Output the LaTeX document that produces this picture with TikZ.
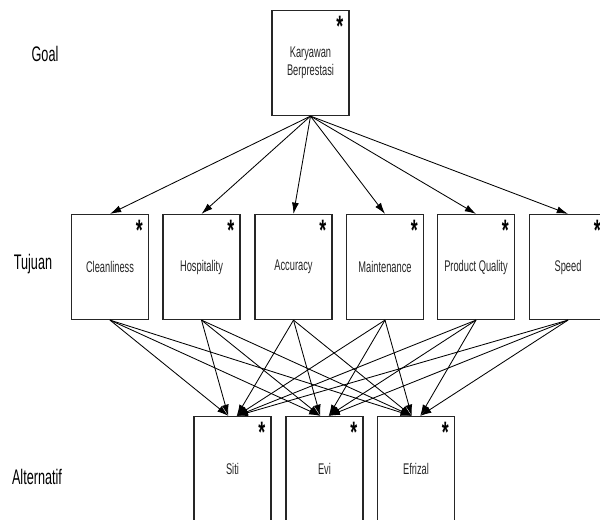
\documentclass[tikz,border=0pt]{standalone}
\usepackage{fontspec}
\setmainfont{Liberation Sans}[FakeStretch=0.6]
\usetikzlibrary{arrows.meta}
\begin{document}
\begin{tikzpicture}
[x=0.025cm,y=-0.025cm,
 every node/.style={font=\fontsize{11}{13}\selectfont,text=black!85},
 kotak/.style={draw=black!85,line width=1pt,minimum width=1.93cm,minimum height=2.62cm,align=center,
   label={[anchor=north east,inner sep=0pt,xshift=-4.5pt,yshift=-4pt,text=black,font=\fontsize{21}{21}\selectfont\bfseries]north east:*}},
 tingkat/.style={font=\fontsize{15}{17}\selectfont,text=black},
 panah/.style={draw,-{Latex[length=8pt,width=5pt]},line width=0.6pt}]
   \useasboundingbox (0,0) rectangle (600,520);
   % tingkatan
   \node[tingkat] (lg) at (45,54) {Goal};
   \node[tingkat] (lt) at (33,264) {Tujuan};
   \node[tingkat] (la) at (37,477) {Alternatif};
   % goal
   \node[kotak] (kb) at (310.5,63) {Karyawan\\Berprestasi};
   % kriteria
   \node[kotak] (cl) at (110,267) {Cleanliness};
   \node[kotak] (ho) at (201.5,267) {Hospitality};
   \node[kotak] (ac) at (293.5,267) {Accuracy};
   \node[kotak] (ma) at (385,267) {Maintenance};
   \node[kotak] (pq) at (476,267) {Product Quality};
   \node[kotak] (sp) at (568,267) {Speed};
   % alternatif
   \node[kotak] (si) at (232.5,469) {Siti};
   \node[kotak] (ev) at (324.5,469) {Evi};
   \node[kotak] (ef) at (416,469) {Efrizal};
    \path[every edge/.append style={panah}]
    (kb.south) edge (cl.north)
    (kb.south) edge (ho.north)
    (kb.south) edge (ac.north)
    (kb.south) edge (ma.north)
    (kb.south) edge (pq.north)
    (kb.south) edge (sp.north)
    (cl.south) edge ([xshift=-3pt]si.north)
    (cl.south) edge ([xshift=-3pt]ev.north)
    (cl.south) edge ([xshift=-3pt]ef.north)
    (ho.south) edge ([xshift=-3pt]si.north)
    (ho.south) edge ([xshift=-3pt]ev.north)
    (ho.south) edge ([xshift=-3pt]ef.north)
    (ac.south) edge ([xshift=3pt]si.north)
    (ac.south) edge ([xshift=-3pt]ev.north)
    (ac.south) edge ([xshift=-3pt]ef.north)
    (ma.south) edge ([xshift=3pt]si.north)
    (ma.south) edge ([xshift=3pt]ev.north)
    (ma.south) edge ([xshift=-3pt]ef.north)
    (pq.south) edge ([xshift=3pt]si.north)
    (pq.south) edge ([xshift=3pt]ev.north)
    (pq.south) edge ([xshift=3pt]ef.north)
    (sp.south) edge ([xshift=3pt]si.north)
    (sp.south) edge ([xshift=3pt]ev.north)
    (sp.south) edge ([xshift=3pt]ef.north)
    ;
  \end{tikzpicture}
\end{document}
